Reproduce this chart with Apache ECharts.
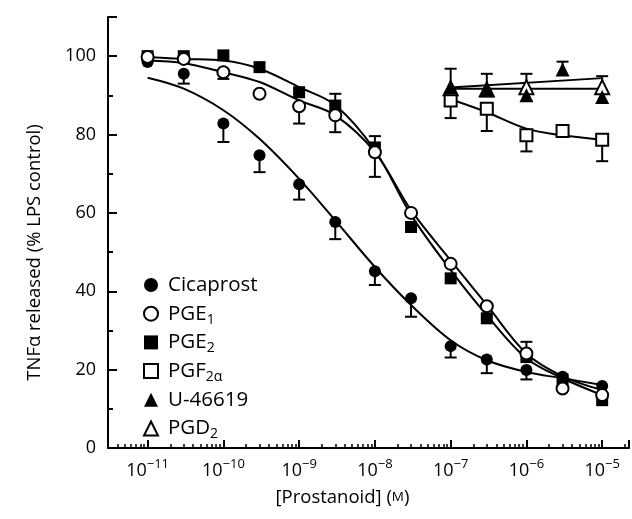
<!DOCTYPE html>
<html>
<head>
<meta charset="utf-8">
<script src="https://cdn.jsdelivr.net/npm/echarts@6/dist/echarts.min.js"></script>
<style>
html, body { margin: 0; padding: 0; background: #fff; }
#chart { width: 632px; height: 519px; }
</style>
</head>
<body>
<div id="chart"></div>
<script>
const chart = echarts.init(document.getElementById("chart"));

// concentrations (M)
const conc = [1e-11, 3e-11, 1e-10, 3e-10, 1e-9, 3e-9, 1e-8, 3e-8, 1e-7, 3e-7, 1e-6, 3e-6, 1e-5];
const concHigh = [1e-7, 3e-7, 1e-6, 3e-6, 1e-5];
const concPgd2 = [1e-7, 3e-7, 1e-6, 1e-5];
const concFlat = [1e-7, 1e-5];

// means (% LPS control); error = SEM drawn one side (+ up, - down, 0 none)
const cicaprost = [98.5, 95.5, 82.8, 74.7, 67.3, 57.7, 45.1, 38.2, 26.0, 22.6, 19.9, 18.2, 15.8];
const cicaprostErr = [0, -2.5, -4.7, -4.3, -3.9, -4.4, -3.5, -4.7, -2.9, -3.5, -2.4, 0, 0];
const pge1 = [99.8, 99.3, 95.9, 90.4, 87.2, 84.9, 75.5, 60.0, 47.0, 36.2, 24.1, 15.2, 13.5];
const pge1Err = [0, 0, -1.7, 0, -4.4, -4.3, -6.3, 0, 0, 0, 3.0, 0, 0];
const pge2 = [100, 100, 100.2, 97.2, 90.8, 87.4, 76.7, 56.4, 43.3, 33.1, 23.2, 17.5, 12.2];
const pge2Err = [0, 0, 0, 0, 0, 3.0, 2.9, 0, 0, 0, 0, 0, 0];
const pgf2a = [88.7, 86.6, 79.8, 80.9, 78.7];
const pgf2aErr = [-4.5, -5.7, -4.1, 0, -5.5];
const u46619 = [92.0, 91.3, 90.0, 96.6, 89.6];
const u46619Err = [4.8, 4.2, 0, 2.0, 0];
const pgd2 = [91.8, 91.5, 92.1, 92.1];
const pgd2Err = [0, 0, 3.4, 2.8];

// fitted curves
const cicaprostFit = [94.5, 91.7, 86.2, 78.9, 68.7, 58.1, 46.2, 36.5, 27.5, 22.4, 19.4, 17.8, 16.1];
const pge1Fit = [98.9, 98.2, 95.9, 93.4, 88.7, 84.9, 75.5, 60.7, 47.9, 36.5, 24.1, 18.3, 14.8];
const pge2Fit = [99.8, 99.3, 98.9, 96.8, 92.1, 87.5, 76.0, 59.5, 45.4, 33.9, 22.9, 17.8, 13.5];
const pgf2aFit = [89.0, 85.7, 81.5, 79.8, 78.7];
const u46619Fit = [92.0, 94.4];
const pgd2Fit = [91.7, 91.7];

// axes
const xMin = 3.0e-12;
const xMax = 2.26e-5;
const yMajor = [0, 20, 40, 60, 80, 100, 110];

const names = ["Cicaprost", "PGE1", "PGE2", "PGF2a", "U-46619", "PGD2"];
const legendText = {
    "Cicaprost": "Cicaprost",
    "PGE1": "PGE{sub|1}",
    "PGE2": "PGE{sub|2}",
    "PGF2a": "PGF{sub|2\u03b1}",
    "U-46619": "U-46619",
    "PGD2": "PGD{sub|2}"
};

const font = "Open Sans";

function pts(xs, ys) {
    return xs.map((x, i) => [x, ys[i]]);
}

function errBars(name, xs, ys, errs) {
    let data = [];
    xs.forEach((x, i) => {
        if (errs[i]) data.push([x, ys[i], ys[i] + errs[i]]);
    });
    return {
        type: 'custom',
        name: name + ' sem',
        silent: true,
        z: 3,
        encode: { x: 0, y: [1, 2] },
        renderItem: function (params, api) {
            const p0 = api.coord([api.value(0), api.value(1)]);
            const p1 = api.coord([api.value(0), api.value(2)]);
            return {
                type: 'group',
                children: [{
                    type: 'line',
                    shape: { x1: p0[0], y1: p0[1], x2: p1[0], y2: p1[1] },
                    style: { stroke: '#000', lineWidth: 2 }
                }, {
                    type: 'line',
                    shape: { x1: p1[0] - 6, y1: p1[1], x2: p1[0] + 6, y2: p1[1] },
                    style: { stroke: '#000', lineWidth: 2 }
                }]
            };
        },
        data: data
    };
}

function fit(name, xs, ys, smooth) {
    return {
        type: 'line',
        name: name + ' fit',
        data: pts(xs, ys),
        smooth: smooth,
        showSymbol: false,
        silent: true,
        z: 2,
        lineStyle: { color: '#000', width: 2 }
    };
}

const filled = { color: '#000', opacity: 1 };
const open = { color: '#fff', borderColor: '#000', borderWidth: 2, opacity: 1 };

function marks(name, xs, ys, symbol, style, z) {
    return {
        type: 'scatter',
        name: name,
        data: pts(xs, ys),
        symbol: symbol,
        symbolSize: symbol === 'triangle' ? 14 : 12,
        itemStyle: style,
        z: z
    };
}

let option = {
    animation: false,
    backgroundColor: '#fff',
    grid: { left: 108, right: 2, top: 17, bottom: 71 },
    legend: {
        data: names,
        orient: 'vertical',
        left: 138,
        top: 267,
        itemWidth: 14,
        itemHeight: 14,
        itemGap: 2.7,
        formatter: n => legendText[n],
        textStyle: {
            fontFamily: font,
            fontSize: 20.5,
            color: '#000',
            lineHeight: 26,
            padding: [0, 0, 0, 5],
            rich: {
                sub: { fontFamily: font, fontSize: 14, lineHeight: 14, verticalAlign: 'bottom', color: '#000' }
            }
        }
    },
    xAxis: {
        type: 'log',
        min: xMin,
        max: xMax,
        position: 'bottom',
        axisLine: { show: true, lineStyle: { color: '#000', width: 2 } },
        axisTick: { show: true, inside: true, length: 8, lineStyle: { color: '#000', width: 2 } },
        minorTick: { show: true, splitNumber: 9, length: 4, lineStyle: { color: '#000', width: 1.5 } },
        splitLine: { show: false },
        axisLabel: {
            margin: 10,
            fontFamily: font,
            fontSize: 18,
            lineHeight: 25,
            color: '#000',
            formatter: function (v) {
                const e = Math.round(Math.log10(v));
                if (Math.abs(Math.log10(v) - e) > 0.01) return '';
                return '10{sup|' + (e < 0 ? '\u2212' : '') + Math.abs(e) + '}';
            },
            rich: {
                sup: { fontFamily: font, fontSize: 13, lineHeight: 13, verticalAlign: 'top', color: '#000' }
            }
        },
        name: '[Prostanoid] ({sc|M})',
        nameLocation: 'middle',
        nameGap: 40,
        nameTextStyle: {
            fontFamily: font,
            fontSize: 18.5,
            color: '#000',
            padding: [0, 52, 0, 0],
            rich: { sc: { fontFamily: font, fontSize: 13.5, color: '#000' } }
        }
    },
    yAxis: [{
        type: 'value',
        min: 0,
        max: 110,
        interval: 10,
        axisLine: { show: true, lineStyle: { color: '#000', width: 2 } },
        axisTick: { show: true, inside: true, length: 5, lineStyle: { color: '#000', width: 2 } },
        splitLine: { show: false },
        axisLabel: {
            margin: 12,
            fontFamily: font,
            fontSize: 18,
            color: '#000',
            formatter: v => (v % 20 === 0 && v <= 100) ? String(v) : ''
        },
        name: 'TNF\u03b1 released (% LPS control)',
        nameLocation: 'middle',
        nameGap: 64,
        nameTextStyle: {
            fontFamily: font,
            fontSize: 18.5,
            color: '#000',
            padding: [0, 40, 0, 0]
        }
    }, {
        type: 'value',
        min: 0,
        max: 110,
        position: 'left',
        axisLine: { show: false },
        axisLabel: { show: false },
        splitLine: { show: false },
        axisTick: { show: true, inside: true, length: 9, customValues: yMajor, lineStyle: { color: '#000', width: 2 } }
    }],
    series: [
        fit('Cicaprost', conc, cicaprostFit, 0.35),
        fit('PGE1', conc, pge1Fit, 0.35),
        fit('PGE2', conc, pge2Fit, 0.35),
        fit('PGF2a', concHigh, pgf2aFit, 0.35),
        fit('U-46619', concFlat, u46619Fit, false),
        fit('PGD2', concFlat, pgd2Fit, false),
        errBars('Cicaprost', conc, cicaprost, cicaprostErr),
        errBars('PGE1', conc, pge1, pge1Err),
        errBars('PGE2', conc, pge2, pge2Err),
        errBars('PGF2a', concHigh, pgf2a, pgf2aErr),
        errBars('U-46619', concHigh, u46619, u46619Err),
        errBars('PGD2', concPgd2, pgd2, pgd2Err),
        marks('Cicaprost', conc, cicaprost, 'circle', filled, 5),
        marks('PGE2', conc, pge2, 'rect', filled, 5),
        marks('PGE1', conc, pge1, 'circle', open, 6),
        marks('PGF2a', concHigh, pgf2a, 'rect', open, 5),
        marks('PGD2', concPgd2, pgd2, 'triangle', open, 5),
        marks('U-46619', concHigh, u46619, 'triangle', filled, 6)
    ]
};

if (option && typeof option === 'object') {
    chart.setOption(option);
}
</script>
</body>
</html>
